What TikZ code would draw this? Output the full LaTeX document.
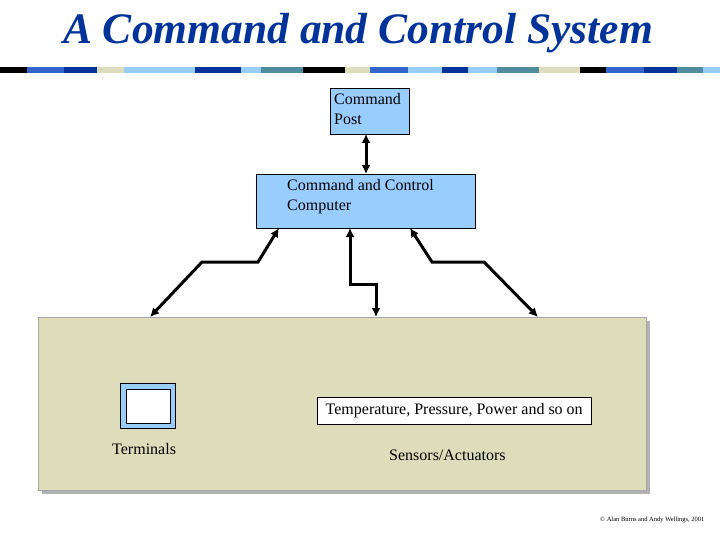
\documentclass[tikz,border=0pt]{standalone}
\usepackage{fontspec}
\setmainfont{Liberation Serif}
\usetikzlibrary{arrows.meta}
\begin{document}
\begin{tikzpicture}[x=1pt,y=-1pt,
 con/.style={line width=3pt,{Latex[length=9pt,width=9pt]}-{Latex[length=9pt,width=9pt]}},
 lbl/.style={font=\fontsize{16}{20}\selectfont,align=left,anchor=north west,inner sep=0}]
\useasboundingbox (0,0) rectangle (720,540);
\definecolor{lb}{RGB}{153,204,255}
\definecolor{beig}{RGB}{221,221,187}
\definecolor{sb}{RGB}{51,102,204}
\definecolor{nv}{RGB}{0,51,153}
\definecolor{tl}{RGB}{80,140,160}
\node[font=\itshape\bfseries\fontsize{43.5}{46}\selectfont,text=nv] (title) at (358,33) {A Command and Control System};
\foreach \a/\b/\c in {0/27/black,27/64/sb,64/97/nv,97/124/beig,124/195/lb,195/241/nv,241/261/lb,261/303/tl,303/345/black,345/370/beig,370/408/sb,408/442/lb,442/468/nv,468/497/lb,497/539/tl,539/580/beig,580/606/black,606/644/sb,644/677/nv,677/703/tl,703/720/lb}
 \fill[\c] (\a,67) rectangle (\b,73);
\fill[gray!60] (42,321) rectangle (650,494);
\node[draw=gray!70,fill=beig,minimum width=608,minimum height=173,anchor=north west,inner sep=0] (field) at (38,317) {};
\node[draw=black,fill=lb,minimum width=79,minimum height=46,anchor=north west,inner sep=0] (cp) at (330,88) {};
\node[lbl] at (334,93) {Command\\Post};
\node[draw=black,fill=lb,minimum width=219,minimum height=54,anchor=north west,inner sep=0] (cc) at (256,174) {};
\node[lbl] at (287,179) {Command and Control\\Computer};
\coordinate (cpb) at (366,134); \coordinate (cct) at (366,174);
\draw[con] (cpb) -- (cct);
\coordinate (l) at (150,317); \coordinate (m) at (376,317); \coordinate (r) at (538,317);
\draw[con] (279,228) -- (258,262) -- (202,262) -- (l);
\draw[con] (350,228) -- (350,284) -- (376,284) -- (m);
\draw[con] (410,228) -- (432,262) -- (484,262) -- (r);
\node[draw=black,fill=lb,minimum width=55,minimum height=45,anchor=north west,inner sep=0] (term) at (120,383) {};
\node[draw=black,fill=white,minimum width=44,minimum height=34,anchor=north west,inner sep=0] (scr) at (126,389) {};
\node[lbl] at (112,443) {Terminals};
\node[draw=black,fill=white,minimum width=274,minimum height=27,anchor=north west,inner sep=0] (temp) at (317,397) {};
\node[font=\fontsize{16}{18}\selectfont] at (temp.center) {Temperature, Pressure, Power and so on};
\node[lbl] at (389,450) {Sensors/Actuators};
\node[font=\fontsize{6.5}{8}\selectfont,anchor=east] (copy) at (708,520) {© Alan Burns and Andy Wellings, 2001};
\end{tikzpicture}
\end{document}
